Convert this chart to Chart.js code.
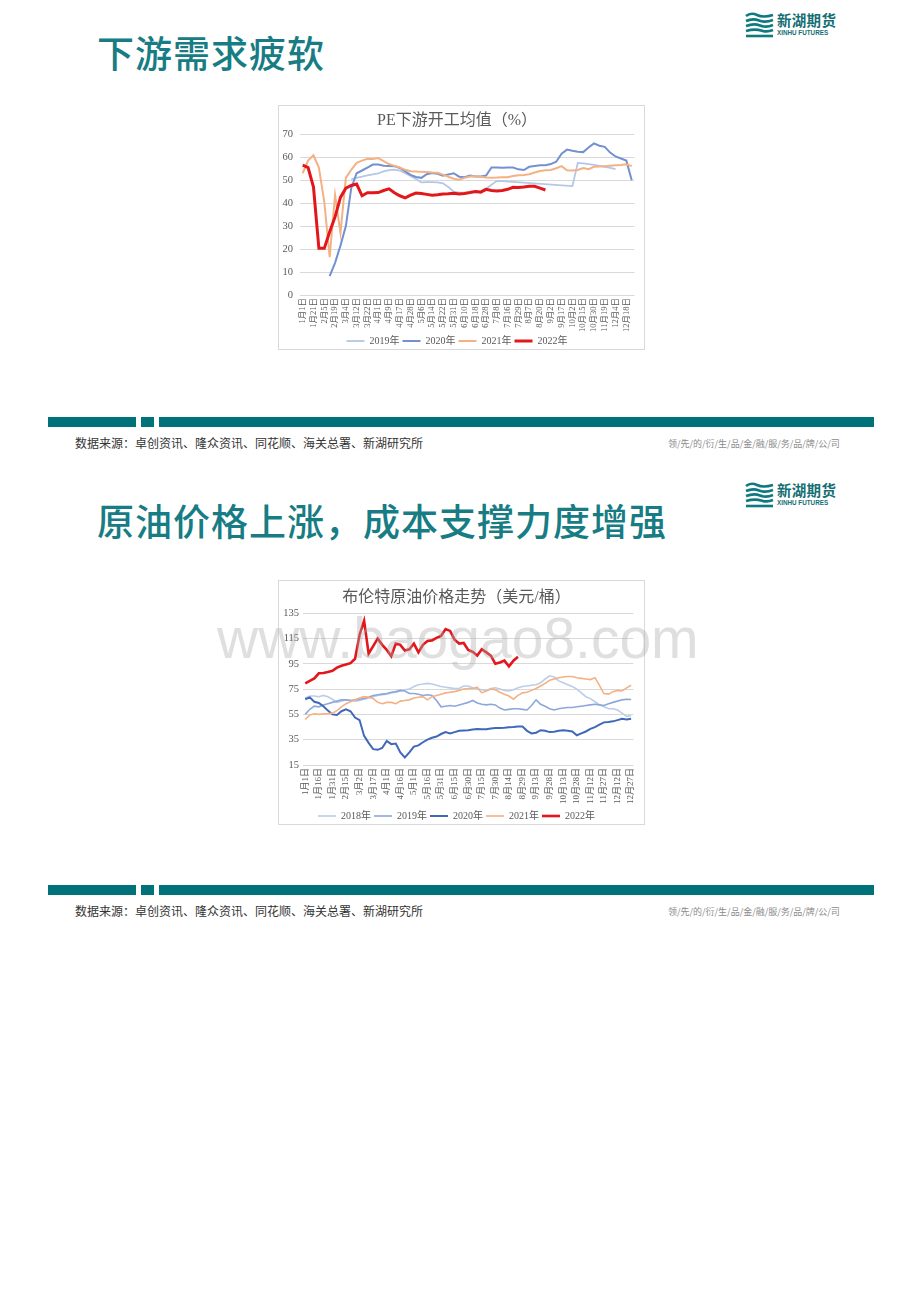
<!DOCTYPE html>
<html lang="zh-CN">
<head>
<meta charset="utf-8">
<title>下游需求疲软 / 原油价格上涨</title>
<script src="https://cdn.jsdelivr.net/npm/chart.js@4.4.1/dist/chart.umd.min.js"></script>
<style>
  body { margin: 0; background: #fff; }
  .page { position: relative; width: 920px; height: 1302px; overflow: hidden; font-family: "Noto Sans CJK SC", sans-serif; }
  .titulo { position: absolute; left: 97px; color: #177c83; font-size: 37px; font-weight: 500; line-height: 1; letter-spacing: 1px; white-space: nowrap; }
  .logo { position: absolute; left: 745px; width: 95px; height: 27px; }
  .logo svg { position: absolute; left: 0; top: 0; }
  .logo .nome { position: absolute; left: 32px; top: 1px; font-size: 14.5px; font-weight: 700; color: #156e74; line-height: 1; letter-spacing: 0.3px; }
  .logo .sub { position: absolute; left: 32px; top: 18px; font-family: "Liberation Sans", sans-serif; font-size: 6.3px; font-weight: 700; color: #156e74; line-height: 1; white-space: nowrap; }
  .barra { position: absolute; height: 10px; background: #00737a; }
  .fonte { position: absolute; left: 75px; font-size: 12px; color: #333; line-height: 1; white-space: nowrap; }
  .slogan { position: absolute; left: 668px; font-size: 9px; color: #8a8a8a; line-height: 1; white-space: nowrap; }
  .caixa { position: absolute; left: 278px; width: 367px; height: 245px; outline: 1px solid #d9d9d9; outline-offset: -1px; background: #fff; }
  .caixa canvas { position: absolute; left: 0; top: 0; }
  .marca { position: absolute; left: 217px; top: 610px; font-family: "Liberation Sans", sans-serif; font-size: 57px; line-height: 1; color: rgba(170,170,170,0.38); white-space: nowrap; pointer-events: none; }
</style>
</head>
<body>
<div class="page">

  <div class="titulo" style="top: 34px;">下游需求疲软</div>
  <div class="logo" style="top: 12px;">
    <svg width="29" height="27" viewBox="0 0 29 27">
      <path d="M1 4 Q6 0 12 3 T28 3" stroke="#0f7980" stroke-width="2.6" fill="none"/>
      <path d="M1 9 Q8 6 14 8.5 T28 8" stroke="#0f7980" stroke-width="2.6" fill="none"/>
      <path d="M1 14 Q9 11 15 13.5 T28 13" stroke="#0f7980" stroke-width="2.6" fill="none"/>
      <path d="M1 19 Q10 16.5 16 18.5 T28 18" stroke="#0f7980" stroke-width="2.6" fill="none"/>
      <path d="M1 24 L28 24" stroke="#0f7980" stroke-width="2.6" fill="none"/>
    </svg>
    <div class="nome">新湖期货</div>
    <div class="sub">XINHU FUTURES</div>
  </div>

  <div class="caixa" style="top: 105px;"><canvas id="graficoPE" width="367" height="251"></canvas></div>

  <div class="barra" style="left: 48px; top: 417px; width: 88px;"></div>
  <div class="barra" style="left: 141px; top: 417px; width: 13px;"></div>
  <div class="barra" style="left: 159px; top: 417px; width: 715px;"></div>
  <div class="fonte" style="top: 437px;">数据来源：卓创资讯、隆众资讯、同花顺、海关总署、新湖研究所</div>
  <div class="slogan" style="top: 439px;">领/先/的/衍/生/品/金/融/服/务/品/牌/公/司</div>

  <div class="titulo" style="top: 502px;">原油价格上涨，成本支撑力度增强</div>
  <div class="logo" style="top: 482px;">
    <svg width="29" height="27" viewBox="0 0 29 27">
      <path d="M1 4 Q6 0 12 3 T28 3" stroke="#0f7980" stroke-width="2.6" fill="none"/>
      <path d="M1 9 Q8 6 14 8.5 T28 8" stroke="#0f7980" stroke-width="2.6" fill="none"/>
      <path d="M1 14 Q9 11 15 13.5 T28 13" stroke="#0f7980" stroke-width="2.6" fill="none"/>
      <path d="M1 19 Q10 16.5 16 18.5 T28 18" stroke="#0f7980" stroke-width="2.6" fill="none"/>
      <path d="M1 24 L28 24" stroke="#0f7980" stroke-width="2.6" fill="none"/>
    </svg>
    <div class="nome">新湖期货</div>
    <div class="sub">XINHU FUTURES</div>
  </div>

  <div class="caixa" style="top: 580px;"><canvas id="graficoBrent" width="367" height="251"></canvas></div>
  <div class="marca">www.baogao8.com</div>

  <div class="barra" style="left: 48px; top: 885px; width: 88px;"></div>
  <div class="barra" style="left: 141px; top: 885px; width: 13px;"></div>
  <div class="barra" style="left: 159px; top: 885px; width: 715px;"></div>
  <div class="fonte" style="top: 905px;">数据来源：卓创资讯、隆众资讯、同花顺、海关总署、新湖研究所</div>
  <div class="slogan" style="top: 907px;">领/先/的/衍/生/品/金/融/服/务/品/牌/公/司</div>
</div>

<script>
// PE下游开工均值（%）— two readings per tick label
const peTicks = ["1月1日", "1月21日", "2月5日", "2月19日", "3月4日", "3月12日", "3月22日", "4月1日",
  "4月9日", "4月17日", "4月28日", "5月6日", "5月14日", "5月22日", "5月31日", "6月10日", "6月18日",
  "6月28日", "7月8日", "7月16日", "7月29日", "8月7日", "8月20日", "9月2日", "9月17日", "10月2日",
  "10月15日", "10月30日", "11月19日", "12月4日", "12月18日"];

const pe2019 = [null, null, null, null, null, null, null, null, null,
  50.3, 51, 51.5, 52.1, 52.5, 52.9, 53.8, 54.4, 54.6, 54.2, 53, 51.8, 50.5, 49, 49.1, 49.1, 49, 48.6,
  47, 45, 44.6, 44.6, 44.5, 44.5, 45, 46.3, 48, 49.7, 49.6,
  null, null, null, null, null, null, null, null, null, null, null, null,
  47.4, 57.5, 57.3, 57, 56.6, 56.2, 55.8, 55.3, 54.8, null, null, null];
const pe2020 = [null, null, null, null, null,
  8.2, 14, 21.5, 30, 46.5, 53, 54.2, 55.5, 56.8, 56.8, 56.3, 56.2, 56.1, 55.3, 53.8, 52.3, 51.4, 51,
  52.6, 53.1, 52.8, 51.9, 52.5, 53, 51.5, 51.3, 52, 51.6, 51.6, 52, 55.5, 55.5, 55.4, 55.5, 55.5,
  54.7, 54.4, 55.8, 56.2, 56.5, 56.5, 57, 58, 61.5, 63.3, 62.8, 62.4, 62.2, 64.2, 66, 65, 64.5, 62,
  60.3, 59.4, 58.5, 50];
const pe2021 = [53, 58.5, 60.8, 55.5, 40.5, 16.5, 43.5, 27, 51, 54.5, 57.5, 58.5, 59.3, 59.2, 59.6,
  58.3, 57, 56.2, 55.5, 54.5, 53.9, 53.8, 53.6, 53.5, 53.3, 53.2, 52.4, 51.5, 50.6, 50.2, 51, 51.6,
  51.7, 51.5, 51.2, 51, 51.1, 51.3, 51.3, 51.8, 52.1, 52.2, 52.6, 53.3, 54, 54.3, 54.4, 55.2, 56.1,
  54.3, 54.2, 54.4, 55.3, 54.8, 55.8, 55.9, 56.1, 56.3, 56.5, 56.6, 56.9, 56.1];
const pe2022 = [56.5, 55.5, 47, 20.3, 20.3, 27.5, 34, 42.5, 46.5, 47.7, 48.3, 43.2, 44.5, 44.5, 44.6,
  45.5, 46.2, 44.5, 43.2, 42.3, 43.5, 44.4, 44.2, 43.8, 43.4, 43.6, 44, 44.1, 44.3, 44, 44.2, 44.6,
  45.1, 44.8, 46, 45.5, 45.3, 45.5, 46, 46.9, 46.8, 47, 47.3, 47.3, 46.5, 45.7,
  null, null, null, null, null, null, null, null, null, null, null, null, null, null, null, null];

// 布伦特原油价格（美元/桶）— one reading every 5 days
const oilTicks = ["1月1日", "1月16日", "1月31日", "2月15日", "3月2日", "3月17日", "4月1日", "4月16日",
  "5月1日", "5月16日", "5月31日", "6月15日", "6月30日", "7月15日", "7月30日", "8月14日", "8月29日",
  "9月13日", "9月28日", "10月13日", "10月28日", "11月12日", "11月27日", "12月12日", "12月27日"];

const oil2018 = [68, 69.5, 69.5, 69, 70, 69, 67, 64.5, 65.5, 66.5, 66, 65.5, 66, 67, 68, 69, 70, 70.5,
  71, 72, 72.5, 73.5, 74.5, 75, 77, 78.5, 79, 79.5, 79, 78, 77, 76.5, 76, 75.5, 75.5, 77.5, 77.5, 76,
  75, 74.5, 74, 75.5, 76, 75, 74, 73.5, 74.5, 76, 77, 77.5, 78, 78.5, 80, 83, 85.5, 84.5, 81.5, 80,
  78.5, 77, 75, 72, 69, 67.5, 65, 62.5, 61, 59.5, 59.5, 58.5, 56, 53.5, 54];
const oil2019 = [55, 59, 61.5, 61, 62.5, 63.5, 64.5, 65.5, 66.5, 66.5, 66, 66.5, 67, 67.5, 68.5, 70,
  70.5, 71, 71.5, 72.5, 73, 74, 73.5, 71.5, 71.5, 71, 70, 70.5, 70, 66, 61, 61.5, 62, 61.5, 62.5, 63.5,
  64.5, 66, 64, 63, 62.5, 63, 62.5, 60, 58.5, 59, 59.5, 59.5, 59, 58.5, 62, 66.5, 63, 61.5, 59.5, 58.5,
  59.5, 60, 60.5, 60.5, 61, 61.5, 62, 62.5, 63, 62.5, 62, 63.5, 64.5, 65.5, 66.5, 67, 66.8];
const oil2020 = [67, 68.5, 65, 64, 61.5, 58, 55, 54.5, 57.5, 59, 57.5, 52.5, 50.5, 38, 32.5, 27.5, 27,
  28.5, 34, 31.5, 32, 25, 21, 25, 29.5, 30.5, 33, 35, 36.5, 37.5, 39.5, 41, 40, 41, 42, 42.3, 42.5, 43,
  43.5, 43.3, 43.3, 43.8, 44.2, 44.3, 44.5, 44.8, 45, 45.5, 45.4, 42, 40, 40.5, 42.5, 42, 41, 41.3, 42,
  42.5, 42, 41.5, 38.5, 40, 41.5, 43.5, 45, 47, 48.7, 49, 49.5, 50.5, 51.5, 51, 51.5];
const oil2021 = [51, 54.5, 55.5, 55, 55.5, 55.5, 56, 58, 61, 63.5, 65, 66.5, 68, 69, 68.5, 67.5, 64.5,
  63.5, 64.5, 64.5, 63.5, 65.5, 66, 66.5, 68, 68.5, 69, 66.5, 69, 70, 71, 72, 72.5, 73, 74, 75, 75.5,
  75.5, 76.5, 72, 73.5, 75, 74.5, 72.5, 71, 69.5, 67, 70, 72, 72.5, 74, 75.5, 77.5, 79.5, 82, 83, 84,
  84.5, 85, 85, 84, 83.5, 83, 82.5, 84, 78, 71.5, 71, 73, 74, 73.5, 76, 78];
const oil2022 = [79.5, 81.5, 83.5, 87.5, 87.7, 88.5, 89.5, 92, 93.5, 94.5, 95.5, 99, 118, 129, 103, 109,
  115, 110, 106, 101, 111, 110, 105.5, 106.5, 111, 104, 110, 113, 113.5, 115.5, 117, 122.5, 121, 114,
  111, 111.5, 106, 104.5, 101.5, 106.5, 104, 101.5, 95, 96, 97.5, 93, 97.5, 100.5,
  null, null, null, null, null, null, null, null, null, null, null, null, null, null, null, null, null,
  null, null, null, null, null, null, null, null];

const fonteSerif = "'Liberation Serif', 'Noto Sans CJK SC', serif";
const corTexto = "#595959";

document.addEventListener("DOMContentLoaded", () => {
  criarGraficoPE();
  criarGraficoBrent();
});

function serie(label, data, cor, largura, ordem, extra) {
  return Object.assign({
    label,
    data,
    borderColor: cor,
    backgroundColor: cor,
    borderWidth: largura,
    pointRadius: 0,
    pointStyle: "line",
    tension: 0,
    order: ordem
  }, extra || {});
}

function opcoesBase(titulo, cfg) {
  return {
    responsive: false,
    animation: false,
    layout: { padding: cfg.padding },
    plugins: {
      title: {
        display: true,
        text: titulo,
        color: corTexto,
        font: { family: fonteSerif, size: 16, weight: "normal" },
        padding: cfg.tituloPadding
      },
      legend: {
        position: "bottom",
        labels: {
          usePointStyle: true,
          pointStyleWidth: 18,
          color: corTexto,
          font: { family: fonteSerif, size: 10 },
          padding: 3,
          sort: (a, b) => a.datasetIndex - b.datasetIndex
        }
      },
      tooltip: { enabled: false }
    },
    scales: {
      x: {
        offset: true,
        grid: { display: false, drawTicks: false },
        border: { display: false },
        ticks: {
          autoSkip: false,
          minRotation: 90,
          maxRotation: 90,
          padding: 3,
          color: corTexto,
          font: { family: fonteSerif, size: cfg.fonteX }
        },
        afterFit: (scale) => { scale.height = cfg.alturaX; }
      },
      y: {
        min: cfg.min,
        max: cfg.max,
        grid: { color: "#d9d9d9", lineWidth: 1, drawTicks: false },
        border: { display: false },
        ticks: {
          stepSize: cfg.passo,
          padding: cfg.padY,
          color: corTexto,
          font: { family: fonteSerif, size: 10.5 }
        },
        afterFit: (scale) => { scale.width = cfg.larguraY; }
      }
    }
  };
}

function criarGraficoPE() {
  const ctx = document.getElementById("graficoPE").getContext("2d");
  const labels = peTicks.flatMap(t => [t, ""]);

  new Chart(ctx, {
    type: "line",
    data: {
      labels,
      datasets: [
        serie("2019年", pe2019, "#b4c7e7", 1.8, 3, { spanGaps: true }),
        serie("2020年", pe2020, "#7391d0", 2, 2),
        serie("2021年", pe2021, "#f4b183", 2, 1),
        serie("2022年", pe2022, "#e3161b", 3, 0)
      ]
    },
    options: opcoesBase("PE下游开工均值（%）", {
      padding: { top: 4, right: 9, bottom: 0, left: 0 },
      tituloPadding: { top: 2, bottom: 4 },
      alturaX: 38,
      fonteX: 8.5,
      larguraY: 22,
      padY: 7,
      min: 0,
      max: 70,
      passo: 10
    })
  });
}

function criarGraficoBrent() {
  const ctx = document.getElementById("graficoBrent").getContext("2d");
  const labels = oilTicks.flatMap((t, i) => i < oilTicks.length - 1 ? [t, "", ""] : [t]);

  new Chart(ctx, {
    type: "line",
    data: {
      labels,
      datasets: [
        serie("2018年", oil2018, "#bccde9", 1.6, 4),
        serie("2019年", oil2019, "#8ea7da", 1.6, 3),
        serie("2020年", oil2020, "#4068b8", 2, 2),
        serie("2021年", oil2021, "#f4b183", 1.6, 1),
        serie("2022年", oil2022, "#e3161b", 2.6, 0)
      ]
    },
    options: opcoesBase("布伦特原油价格走势（美元/桶）", {
      padding: { top: 6, right: 10, bottom: 0, left: 0 },
      tituloPadding: { top: 2, bottom: 6 },
      alturaX: 43,
      fonteX: 9,
      larguraY: 25,
      padY: 4,
      min: 15,
      max: 135,
      passo: 20
    })
  });
}
</script>
</body>
</html>
